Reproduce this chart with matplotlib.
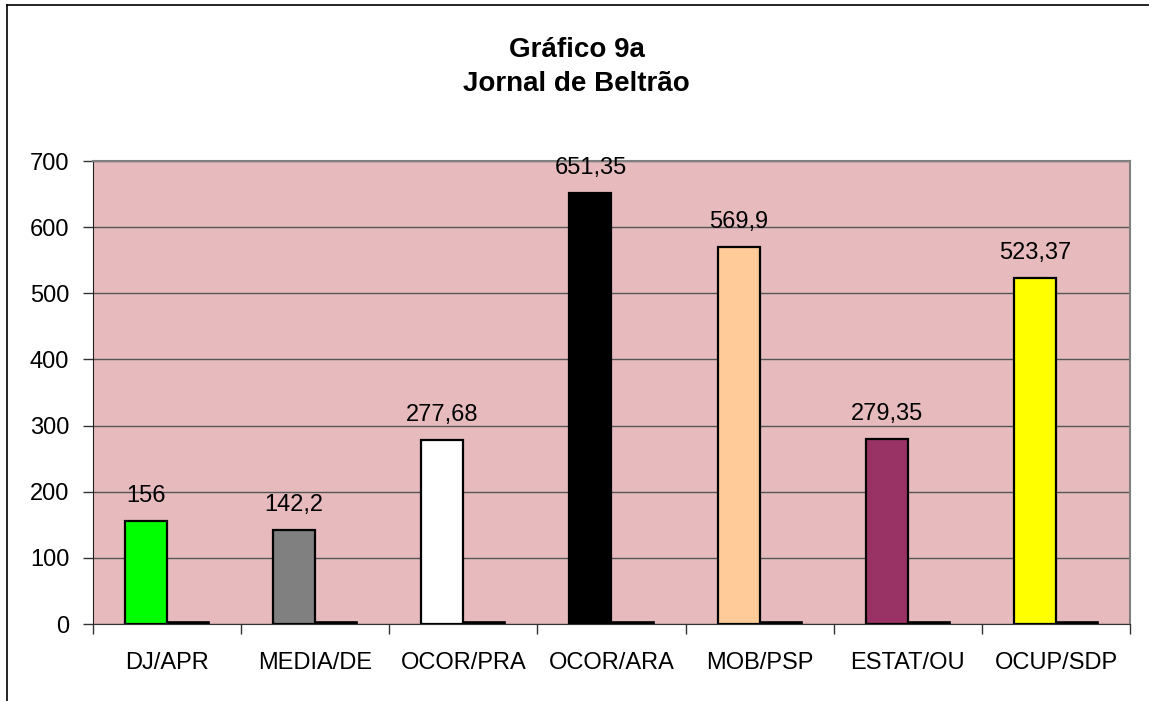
import numpy as np
import matplotlib.pyplot as plt
from matplotlib.lines import Line2D

# ── DATA ────────────────────────────────────────────────────────────────────
categories = ['DJ/APR', 'MEDIA/DE', 'OCOR/PRA', 'OCOR/ARA', 'MOB/PSP', 'ESTAT/OU', 'OCUP/SDP']
values = [156, 142.2, 277.68, 651.35, 569.9, 279.35, 523.37]
value_labels = ['156', '142,2', '277,68', '651,35', '569,9', '279,35', '523,37']
second_series = [3, 3, 3, 3, 3, 3, 3]
y_ticks = [0, 100, 200, 300, 400, 500, 600, 700]

bar_colors = ['#00FF00', '#808080', '#FFFFFF', '#000000', '#FFCC99', '#993366', '#FFFF00']

# ── PLOT ────────────────────────────────────────────────────────────────────
plt.rcParams['font.family'] = ['Liberation Sans', 'DejaVu Sans']

fig = plt.figure(figsize=(11.49, 7.01), dpi=100)
ax = fig.add_axes([0.0809, 0.1098, 0.9026, 0.6605])

# outer chart frame (only top and left edges visible)
fig.add_artist(Line2D([0.0061, 1.0], [0.9929, 0.9929], color='black', lw=1.2, transform=fig.transFigure))
fig.add_artist(Line2D([0.0061, 0.0061], [0.0, 0.9929], color='black', lw=1.2, transform=fig.transFigure))

x = np.arange(len(categories))
w = 0.284
ax.set_facecolor('#E7BBBE')
ax.bar(x - w / 2, values, width=w, color=bar_colors, edgecolor='black', linewidth=1.6, zorder=3)
ax.bar(x + w / 2, second_series, width=w, color='black', edgecolor='black', linewidth=1.2, zorder=3)

for xi, v, lab in zip(x, values, value_labels):
    ax.text(xi - w / 2, v + 29, lab, ha='center', va='baseline', fontsize=17)

ax.set_xlim(-0.5, len(categories) - 0.5)
ax.set_ylim(0, 700)
ax.set_yticks(y_ticks)
ax.yaxis.grid(True, color='#555555', linewidth=1.0, zorder=1)
ax.set_axisbelow(True)

ax.set_xticks(np.arange(len(categories) + 1) - 0.5)
ax.set_xticklabels([])
ax.set_xticks(x, minor=True)
ax.set_xticklabels(categories, minor=True)
ax.tick_params(axis='x', which='major', direction='out', length=7, width=1, color='#333333')
ax.tick_params(axis='x', which='minor', length=0, pad=20, labelsize=17)
ax.tick_params(axis='y', direction='out', length=7, width=1, color='#333333', labelsize=17, pad=10)

for side in ['top', 'right']:
    ax.spines[side].set_color('#808080')
    ax.spines[side].set_linewidth(1.5)
ax.spines['left'].set_color('#222222')
ax.spines['bottom'].set_color('#333333')

fig.text(0.502, 0.904, 'Gráfico 9a\nJornal de Beltrão', ha='center', va='center',
         fontsize=20, fontweight='bold', linespacing=1.4)

plt.savefig('out.png', dpi=100)
